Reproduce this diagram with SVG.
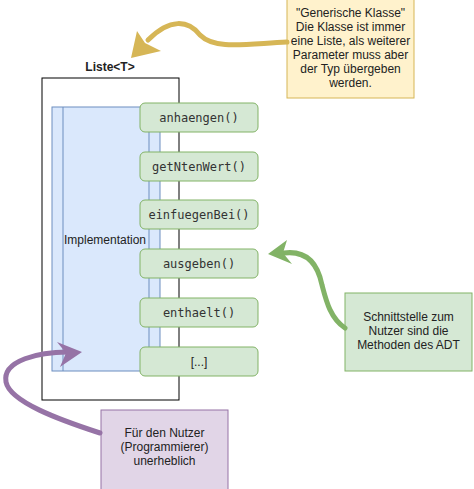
<svg xmlns="http://www.w3.org/2000/svg" width="474" height="489" viewBox="0 0 474 489">
<style>
.t{font-family:"Liberation Sans",Arial,sans-serif;font-size:12px;fill:#222;text-anchor:middle}
.m{font-family:"DejaVu Sans Mono","Liberation Mono",monospace;font-size:12px;fill:#333;text-anchor:middle}
.meth{fill:#d5e8d4;stroke:#82b366;stroke-width:1}
.conn{fill:none;stroke-width:5;stroke-linecap:round}
</style>
<rect width="474" height="489" fill="#ffffff"/>
<g id="liste">
<rect x="42" y="78" width="137" height="322" fill="#ffffff" stroke="#000000" stroke-width="1"/>
<text class="t" x="110" y="71" font-weight="bold">Liste&lt;T&gt;</text>
</g>
<g id="implementation">
<rect x="52" y="107" width="108" height="264" fill="#dae8fc" stroke="#6c8ebf" stroke-width="1"/>
<line x1="63" y1="107" x2="63" y2="371" stroke="#6c8ebf"/>
<line x1="149" y1="107" x2="149" y2="371" stroke="#6c8ebf"/>
<text class="t" x="105" y="244">Implementation</text>
</g>
<g id="anhaengen"><rect class="meth" x="140" y="103" width="118" height="29" rx="5"/><text class="m" x="199" y="122">anhaengen()</text></g>
<g id="getNtenWert"><rect class="meth" x="140" y="152" width="118" height="29" rx="5"/><text class="m" x="199" y="171">getNtenWert()</text></g>
<g id="einfuegenBei"><rect class="meth" x="140" y="200" width="118" height="29" rx="5"/><text class="m" x="199" y="219">einfuegenBei()</text></g>
<g id="ausgeben"><rect class="meth" x="140" y="249" width="118" height="29" rx="5"/><text class="m" x="199" y="268">ausgeben()</text></g>
<g id="enthaelt"><rect class="meth" x="140" y="298" width="118" height="29" rx="5"/><text class="m" x="199" y="317">enthaelt()</text></g>
<g id="more"><rect class="meth" x="140" y="347" width="118" height="29" rx="5"/><text class="t" x="199" y="366">[...]</text></g>
<g id="note-generisch">
<rect x="287" y="-5" width="127" height="103" fill="#fff2cc" stroke="#d6b656"/>
<text class="t" x="350.5" y="17">"Generische Klasse"</text>
<text class="t" x="350.5" y="31">Die Klasse ist immer</text>
<text class="t" x="350.5" y="45">eine Liste, als weiterer</text>
<text class="t" x="350.5" y="59">Parameter muss aber</text>
<text class="t" x="350.5" y="73">der Typ übergeben</text>
<text class="t" x="350.5" y="87">werden.</text>
</g>
<g id="note-schnittstelle">
<rect x="345" y="293" width="127" height="78" fill="#d5e8d4" stroke="#82b366"/>
<text class="t" x="408.5" y="321">Schnittstelle zum</text>
<text class="t" x="408.5" y="335">Nutzer sind die</text>
<text class="t" x="408.5" y="349">Methoden des ADT</text>
</g>
<g id="note-nutzer">
<rect x="101" y="410" width="127" height="85" fill="#e1d5e7" stroke="#9673a6"/>
<text class="t" x="164.5" y="437">Für den Nutzer</text>
<text class="t" x="164.5" y="451">(Programmierer)</text>
<text class="t" x="164.5" y="465">unerheblich</text>
</g>
<g id="connectors">
<path class="conn" stroke="#d6b656" d="M287,42 C245,44 215,50 200,35 C188,20 170,18 148,40"/>
<polygon fill="#d6b656" points="131,58 137,31 145,43 161,51"/>
<path class="conn" stroke="#82b366" d="M345,328 C330,318 326,300 322,285 C318,265 308,250 284,253"/>
<polygon fill="#82b366" points="268,254 287,240 283,253 292,264"/>
<path class="conn" stroke="#9673a6" d="M100,433 C60,420 10,402 6,382 C2,360 40,352 68,352"/>
<polygon fill="#9673a6" points="82,352 57,342 66,353 60,367"/>
</g>
</svg>
